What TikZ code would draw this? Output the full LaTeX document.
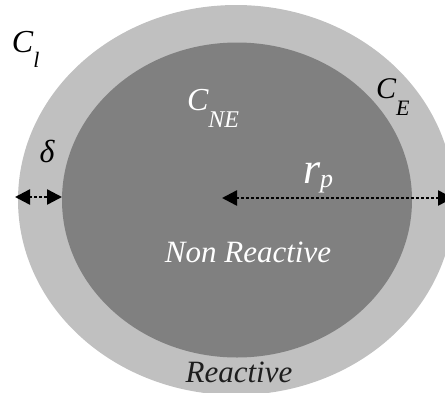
\documentclass[tikz,border=0pt]{standalone}
\usepackage{fontspec}
\newfontfamily\tnr{Liberation Serif}
\usetikzlibrary{arrows.meta}
\definecolor{lightg}{RGB}{192,192,192}
\definecolor{darkg}{RGB}{128,128,128}
\definecolor{txtdark}{RGB}{30,30,30}
\newcommand{\fsz}[1]{\fontsize{#1}{#1}\selectfont}
\begin{document}
\begin{tikzpicture}[x=1pt,y=-1pt,
  dimline/.style={line width=2.5pt, dash pattern=on 2.5pt off 2.5pt,
    {Triangle[length=15pt,width=15pt]}-{Triangle[length=15pt,width=15pt]}},
  lbl/.style={inner sep=0pt, outer sep=0pt, font=\tnr\itshape}]
\useasboundingbox (0,0) rectangle (445,392);
\clip (0,0) rectangle (445,392);
\fill[lightg] (236,200) ellipse [x radius=218pt, y radius=195pt];
\fill[darkg] (237,200) ellipse [x radius=175pt, y radius=157.5pt];
\coordinate (dl) at (15,197);
\coordinate (dr) at (62,197);
\coordinate (rl) at (222,198);
\coordinate (rr) at (453,198);
\draw[dimline] (dl) -- (dr);
\draw[dimline] (rl) -- (rr);
\node[lbl, anchor=base west] (cl) at (12,52)
  {\fsz{32}C\raisebox{-15pt}{\fsz{22}l}};
\node[lbl, anchor=base west, text=white] (cne) at (187,110)
  {\fsz{32}C\raisebox{-17pt}{\fsz{24}NE}};
\node[lbl, anchor=base west] (ce) at (376,98)
  {\fsz{30}C\raisebox{-17pt}{\fsz{22}E}};
\node[lbl, anchor=base] (delta) at (47,162) {\fsz{32}δ};
\node[lbl, anchor=base west, text=white] (rp) at (303,183)
  {\fsz{44}r\raisebox{-4pt}{\fsz{26}p}};
\node[lbl, anchor=base, text=white] (nonr) at (248,262) {\fsz{31}Non Reactive};
\node[lbl, anchor=base, text=txtdark] (react) at (239,382) {\fsz{31}Reactive};
\end{tikzpicture}
\end{document}
